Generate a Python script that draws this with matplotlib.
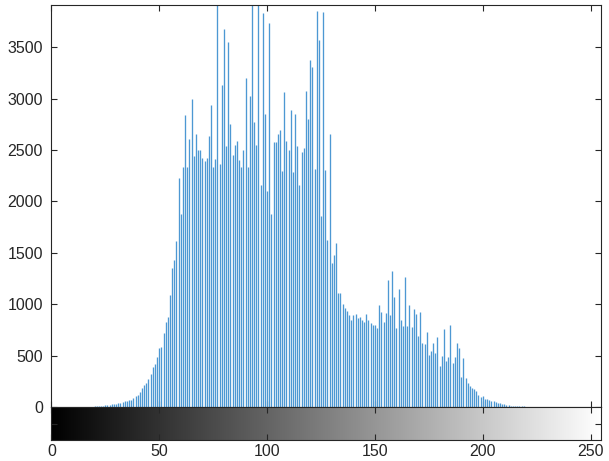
import numpy as np
import matplotlib
matplotlib.use("Agg")
import matplotlib.pyplot as plt

# gray levels 0..255 and their pixel counts
levels = np.arange(256)
counts = [0] * 16 + [
    1, 2, 2, 3,
    5, 6, 8, 10, 12, 15, 15, 20, 30, 25,
    25, 35, 40, 45, 60, 60, 65, 70, 90, 110,
    115, 145, 180, 210, 230, 270, 320, 390, 420, 490,
    575, 585, 720, 830, 880, 1090, 1350, 1430, 1610, 2232,
    1880, 2330, 2838, 2335, 2611, 3000, 2443, 2660, 2498, 2500,
    2426, 2390, 2420, 2634, 2935, 2335, 2417, 4100, 2368, 3129,
    3680, 2536, 3550, 2757, 2449, 2546, 2588, 2400, 2336, 2498,
    3204, 2336, 3026, 4300, 2773, 2546, 4000, 2157, 3832, 2854,
    2099, 3735, 1882, 2579, 2579, 2653, 2692, 2297, 3064, 2588,
    2498, 2886, 2287, 2854, 2536, 2157, 2481, 2523, 3074, 2805,
    3379, 3307, 2319, 3848, 3567, 1856, 3842, 2303, 1623, 2653,
    1396, 1477, 1591, 1105, 1105, 1000, 959, 930, 894, 846,
    894, 900, 862, 878, 850, 829, 904, 850, 813, 797,
    797, 765, 991, 926, 829, 910, 1234, 894, 1322, 1072,
    771, 1144, 845, 787, 1266, 787, 991, 780, 949, 904,
    693, 923, 619, 613, 726, 505, 544, 619, 522, 677,
    398, 499, 758, 450, 489, 797, 431, 483, 625, 570,
    295, 473, 279, 230, 204, 182, 172, 159, 117, 100,
    107, 81, 74, 68, 58, 61, 48, 36, 42, 29,
    25, 20, 16, 14, 12, 10, 8, 7, 6, 5,
    4, 3, 2, 1,
] + [0] * 32

xticks = [0, 50, 100, 150, 200, 250]
yticks = [0, 500, 1000, 1500, 2000, 2500, 3000, 3500]

plt.rcParams['font.family'] = ['Liberation Sans', 'DejaVu Sans']
tc = '#262626'

W, H = 609, 461
fig = plt.figure(figsize=(W / 100, H / 100), dpi=100)

ax = fig.add_axes([51.4 / W, 54 / H, 550 / W, 402 / H])
ax.vlines(levels, 0, counts, color='#4d98d3', linewidth=0.95)
ax.set_xlim(0, 255)
ax.set_ylim(0, 3910)
ax.set_yticks(yticks)
ax.set_xticks(xticks)
ax.set_xticklabels([])
ax.tick_params(direction='in', length=4, width=0.8, color=tc, labelcolor=tc,
               labelsize=11.5, top=True, right=True, pad=6)
for s in ax.spines.values():
    s.set_color(tc)
    s.set_linewidth(0.8)

# gray-level bar under the histogram
cb = fig.add_axes([51.4 / W, 21 / H, 550 / W, 33 / H])
cb.imshow(levels[None, :], cmap='gray', aspect='auto', extent=[0, 255, 0, 1],
          vmin=0, vmax=255)
cb.set_xlim(0, 255)
cb.set_ylim(0, 1)
cb.set_xticks(xticks)
cb.set_yticks([0.5])
cb.set_yticklabels([])
cb.tick_params(direction='in', length=4, width=0.8, color=tc, labelcolor=tc,
               labelsize=11.5, top=True, right=True, pad=3)
for s in cb.spines.values():
    s.set_color(tc)
    s.set_linewidth(0.8)

fig.savefig('out.png', dpi=100)
